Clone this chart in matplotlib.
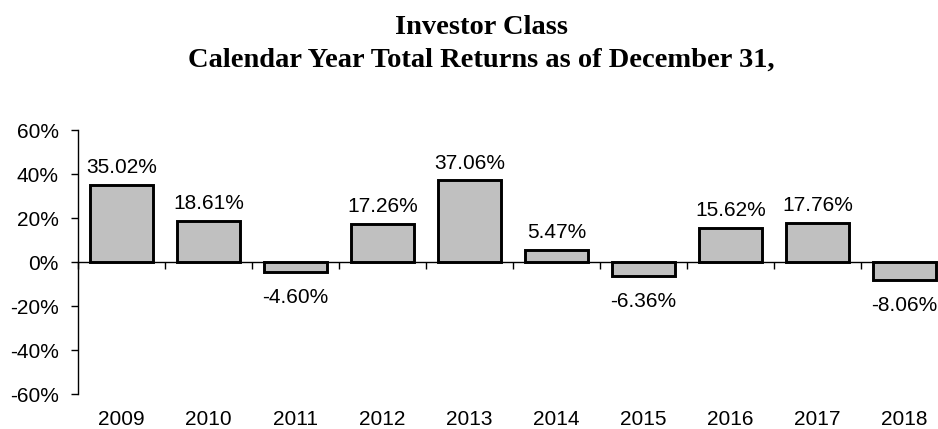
import matplotlib
matplotlib.use("Agg")
import matplotlib.pyplot as plt
from matplotlib.ticker import FuncFormatter, FixedLocator

years = ["2009", "2010", "2011", "2012", "2013", "2014", "2015", "2016", "2017", "2018"]
returns = [35.02, 18.61, -4.60, 17.26, 37.06, 5.47, -6.36, 15.62, 17.76, -8.06]
yticks = [-60, -40, -20, 0, 20, 40, 60]

W, H = 938, 429
fig = plt.figure(figsize=(W / 100, H / 100), dpi=100)
ax = fig.add_axes([78 / W, 35 / H, 870 / W, 264 / H])

x = list(range(len(years)))
ax.bar(x, returns, width=0.72, color="#C0C0C0", edgecolor="black",
       linewidth=2.1, zorder=3)

ax.set_xlim(-0.5, len(years) - 0.5)
ax.set_ylim(-60, 60)

sans = "Liberation Sans"
fs = 15
ax.yaxis.set_major_locator(FixedLocator(yticks))
ax.yaxis.set_major_formatter(FuncFormatter(lambda v, p: f"{v:.0f}%"))
ax.tick_params(axis="y", direction="out", length=5, width=1, pad=9,
               labelsize=fs, labelfontfamily=sans)

# horizontal axis sits at zero, ticks mark category boundaries
ax.spines["bottom"].set_position(("data", 0))
ax.spines["top"].set_visible(False)
ax.spines["right"].set_visible(False)
ax.xaxis.set_major_locator(FixedLocator([i + 0.5 for i in range(-1, len(years))]))
ax.tick_params(axis="x", direction="out", length=5, width=1, labelbottom=False)
for s in ("left", "bottom"):
    ax.spines[s].set_linewidth(1)
    ax.spines[s].set_zorder(2)

# year labels along the bottom of the plot area
for i, yr in enumerate(years):
    ax.annotate(yr, xy=(i, 0), xycoords=ax.get_xaxis_transform(),
                xytext=(0, -18.5), textcoords="offset points",
                ha="center", va="center", fontsize=fs, family=sans)

# value labels above positive bars, below negative bars
for i, v in enumerate(returns):
    off = 12.5 if v >= 0 else -18.5
    ax.annotate(f"{v:.2f}%", xy=(i, v), xytext=(0, off),
                textcoords="offset points", ha="center", va="center",
                fontsize=fs, family=sans)

fig.text(481 / W, 1 - 27 / H, "Investor Class", ha="center", va="center",
         fontsize=20.5, fontweight="bold", family="Liberation Serif")
fig.text(481 / W, 1 - 60 / H, "Calendar Year Total Returns as of December 31,",
         ha="center", va="center", fontsize=20.5, fontweight="bold",
         family="Liberation Serif")

fig.savefig("out.png", dpi=100)
